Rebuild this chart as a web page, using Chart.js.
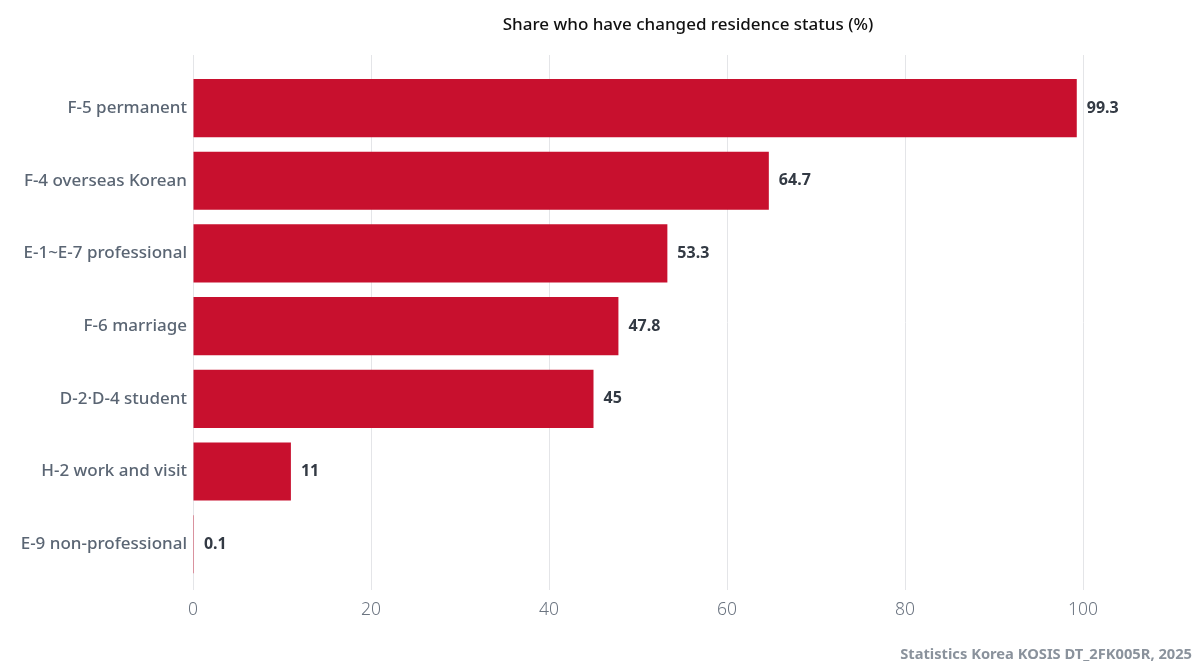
<!DOCTYPE html>
<html>
<head>
<meta charset="utf-8">
<script src="https://cdn.jsdelivr.net/npm/chart.js@4"></script>
<style>
  body { margin: 0; background: #fff; }
  #wrap { width: 1200px; height: 672px; }
</style>
</head>
<body>
<div id="wrap"><canvas id="barChart"></canvas></div>
<script>
// Residence status categories (top to bottom)
const categories = [
  "F-5 permanent",
  "F-4 overseas Korean",
  "E-1~E-7 professional",
  "F-6 marriage",
  "D-2\u00b7D-4 student",
  "H-2 work and visit",
  "E-9 non-professional"
];

// Share who have changed residence status (%)
const shareValues = [99.3, 64.7, 53.3, 47.8, 45, 11, 0.1];

// x axis ticks
const xTicks = [0, 20, 40, 60, 80, 100];

const titleText = "Share who have changed residence status (%)";
const sourceText = "Statistics Korea KOSIS DT_2FK005R, 2025";
const FONT = "'Noto Sans', sans-serif";

// value labels at bar ends + title + source
const extraText = {
  id: "extraText",
  afterDatasetsDraw(chart) {
    const ctx = chart.ctx;
    ctx.save();
    ctx.font = "bold 16px " + FONT;
    ctx.fillStyle = "#333a44";
    ctx.textAlign = "left";
    ctx.textBaseline = "middle";
    chart.getDatasetMeta(0).data.forEach((bar, i) => {
      ctx.fillText(String(shareValues[i]), bar.x + 10, bar.y);
    });
    ctx.restore();
  },
  afterDraw(chart) {
    const ctx = chart.ctx;
    const area = chart.chartArea;
    ctx.save();
    ctx.font = "500 17px " + FONT;
    ctx.fillStyle = "#111";
    ctx.textAlign = "center";
    ctx.textBaseline = "middle";
    ctx.fillText(titleText, (area.left + chart.width - 17) / 2, 25);
    ctx.font = "bold 14.7px " + FONT;
    ctx.fillStyle = "#8a929c";
    ctx.textAlign = "right";
    ctx.fillText(sourceText, chart.width - 8, 655);
    ctx.restore();
  }
};

new Chart(document.getElementById("barChart"), {
  type: "bar",
  data: {
    datasets: [{
      label: titleText,
      data: shareValues.map((v, i) => ({ x: v, y: i })),
      backgroundColor: "#c8102e",
      categoryPercentage: 1,
      barPercentage: 0.8
    }]
  },
  options: {
    indexAxis: "y",
    responsive: true,
    maintainAspectRatio: false,
    animation: false,
    layout: { padding: { top: 55, right: 117, bottom: 42, left: 0 } },
    plugins: {
      legend: { display: false },
      tooltip: { enabled: false }
    },
    scales: {
      x: {
        type: "linear",
        min: 0,
        max: 100,
        afterBuildTicks: (scale) => { scale.ticks = xTicks.map(v => ({ value: v })); },
        afterFit: (scale) => { scale.height = 40; },
        grid: { color: "#e4e5e8", drawTicks: false },
        border: { display: false },
        ticks: { color: "#6b7480", padding: 10, font: { family: FONT, size: 17.5, weight: 300 } }
      },
      y: {
        type: "linear",
        reverse: true,
        bounds: "data",
        offset: false,
        min: -0.73,
        max: 6.63,
        afterBuildTicks: (scale) => { scale.ticks = categories.map((c, i) => ({ value: i })); },
        afterFit: (scale) => { scale.width = 193; },
        grid: { display: false, offset: false, drawTicks: false },
        border: { display: false },
        ticks: {
          padding: 6,
          color: "#5a6573",
          font: { family: FONT, size: 17, weight: 500 },
          callback: (v) => categories[v] !== undefined ? categories[v] : ""
        }
      }
    }
  },
  plugins: [extraText]
});
</script>
</body>
</html>
